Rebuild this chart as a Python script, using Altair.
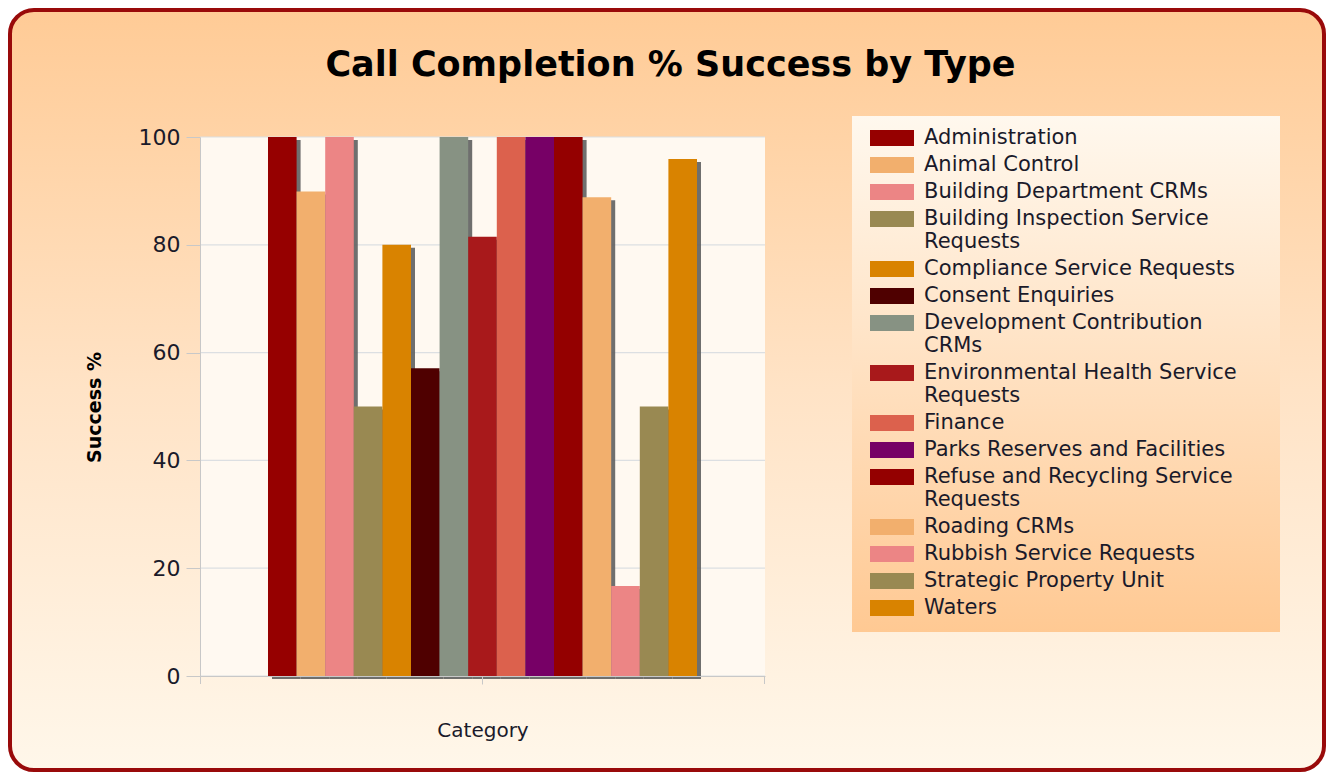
import altair as alt
import pandas as pd

# ---- data ----
group = ["Category"]
series = [
    "Administration",
    "Animal Control",
    "Building Department CRMs",
    "Building Inspection Service Requests",
    "Compliance Service Requests",
    "Consent Enquiries",
    "Development Contribution CRMs",
    "Environmental Health Service Requests",
    "Finance",
    "Parks Reserves and Facilities",
    "Refuse and Recycling Service Requests",
    "Roading CRMs",
    "Rubbish Service Requests",
    "Strategic Property Unit",
    "Waters",
]
values = [100, 89.9, 100, 50, 80, 57.1, 100, 81.5, 100, 100, 100, 88.8, 16.7, 50, 95.9]
colors = [
    "#960000", "#F2AF6D", "#EC8585", "#998952", "#D98300",
    "#4F0000", "#879283", "#A8191B", "#DC614D", "#770066",
    "#940000", "#F2AF6D", "#EC8585", "#998952", "#D98300",
]
y_ticks = [0, 20, 40, 60, 80, 100]
wrapped = {
    "Building Inspection Service Requests": ["Building Inspection Service", "Requests"],
    "Development Contribution CRMs": ["Development Contribution", "CRMs"],
    "Environmental Health Service Requests": ["Environmental Health Service", "Requests"],
    "Refuse and Recycling Service Requests": ["Refuse and Recycling Service", "Requests"],
}

df = pd.DataFrame({"group": group * len(series), "series": series, "value": values})
ticks_df = pd.DataFrame({"tick": y_ticks})
one = pd.DataFrame({"k": [0]})

FONT = "DejaVu Sans"
W, H = 565, 539
BAND_PAD = 0.1585
BAND_W = W / (1 + 2 * BAND_PAD)

label_expr = ""
for k, v in wrapped.items():
    label_expr += "datum.label == '%s' ? ['%s', '%s'] : " % (k, v[0], v[1])
label_expr += "datum.label"

yscale = alt.Scale(domain=[0, 100], nice=False)
yaxis = alt.Axis(values=y_ticks, grid=False, domainColor="#C8C8C8", tickColor="#C8C8C8",
                 tickSize=14, labelFont=FONT, labelFontSize=22, labelColor="#1a1a2a",
                 labelPadding=6, title="Success %", titleFont=FONT, titleFontSize=19,
                 titleFontWeight="bold", titleColor="#000000", titleX=-106, titleY=270,
                 titleAngle=270, titleAlign="center", titleBaseline="middle", zindex=1)
xscale = alt.Scale(paddingOuter=BAND_PAD, paddingInner=0)
xaxis = alt.Axis(labels=False, tickSize=8, domainColor="#C8C8C8", tickColor="#C8C8C8",
                 title="Category", titleFont=FONT, titleFontSize=20, titleFontWeight="normal",
                 titleColor="#1a1a2a", titleY=54, titleBaseline="middle", zindex=1)

bg = alt.Chart(one).mark_rect(
    cornerRadius=24, stroke="#990A0A", strokeWidth=4,
    fill=alt.Gradient(gradient="linear", x1=0, x2=0, y1=0, y2=1,
                      stops=[alt.GradientStop(color="#FFCB96", offset=0),
                             alt.GradientStop(color="#FFE3C6", offset=0.5),
                             alt.GradientStop(color="#FFF7EA", offset=1)]),
).encode(x=alt.value(-190), x2=alt.value(1124), y=alt.value(-127), y2=alt.value(633))

legend_bg = alt.Chart(one).mark_rect(
    fill=alt.Gradient(gradient="linear", x1=0, x2=0, y1=0, y2=1,
                      stops=[alt.GradientStop(color="#FFF8EE", offset=0),
                             alt.GradientStop(color="#FFC993", offset=1)]),
).encode(x=alt.value(652), x2=alt.value(1080), y=alt.value(-21), y2=alt.value(495))

plot_bg = alt.Chart(one).mark_rect(fill="#FFF9F1").encode(
    x=alt.value(0), x2=alt.value(W), y=alt.value(0), y2=alt.value(H))

edge_l = alt.Chart(one).mark_rule(color="#C8C8C8").encode(
    x=alt.value(0.5), y=alt.value(H), y2=alt.value(H + 8))
edge_r = alt.Chart(one).mark_rule(color="#C8C8C8").encode(
    x=alt.value(W - 0.5), y=alt.value(H), y2=alt.value(H + 8))

grid = alt.Chart(ticks_df).mark_rule(color="#DCDFE2", strokeWidth=1.2).encode(
    y=alt.Y("tick:Q", scale=yscale, axis=yaxis))

shadow = alt.Chart(df).mark_bar(color="#5F5F5F", opacity=0.9, yOffset=3, y2Offset=3).encode(
    x=alt.X("group:N", scale=xscale, axis=xaxis),
    xOffset=alt.XOffset("series:N", sort=series,
                        scale=alt.Scale(paddingInner=0, paddingOuter=0, range=[4, BAND_W + 4])),
    y=alt.Y("value:Q", scale=yscale, axis=yaxis),
)

bars = alt.Chart(df).mark_bar(opacity=1).encode(
    x=alt.X("group:N", scale=xscale, axis=xaxis),
    xOffset=alt.XOffset("series:N", sort=series,
                        scale=alt.Scale(paddingInner=0, paddingOuter=0, range=[0, BAND_W])),
    y=alt.Y("value:Q", scale=yscale, axis=yaxis),
    color=alt.Color("series:N", sort=series,
                    scale=alt.Scale(domain=series, range=colors),
                    legend=alt.Legend(orient="none", legendX=681, legendY=-10, title=None,
                                      symbolType="M-2,-0.72L2,-0.72L2,0.72L-2,0.72Z",
                                      symbolSize=484, symbolStrokeWidth=0, symbolOpacity=1,
                                      labelFont=FONT, labelFontSize=21, labelColor="#1a1a2a",
                                      labelOffset=21, labelLimit=420, rowPadding=6, padding=0,
                                      labelExpr=label_expr)),
)

chart = alt.layer(bg, legend_bg, plot_bg, edge_l, edge_r, grid, shadow, bars).resolve_scale(
    xOffset="independent"
).properties(
    width=W, height=H,
    autosize=alt.AutoSizeParams(type="none"),
    padding={"left": 192, "top": 129, "right": 561, "bottom": 98},
    title=alt.TitleParams("Call Completion % Success by Type", font=FONT, fontSize=35,
                          fontWeight="bold", color="#000000", anchor="middle", frame="group",
                          dx=188, dy=103, baseline="alphabetic", offset=0),
).configure(background="white").configure_view(stroke=None)

chart.save("out.html", embed_options={"renderer": "svg", "actions": False})
